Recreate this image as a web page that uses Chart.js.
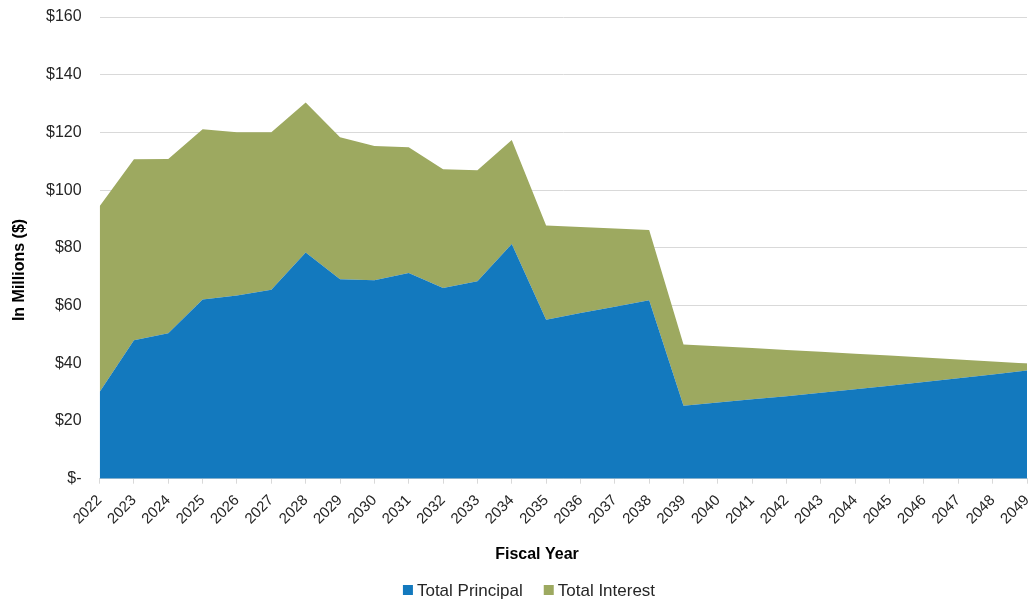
<!DOCTYPE html>
<html>
<head>
<meta charset="utf-8">
<script src="https://cdn.jsdelivr.net/npm/chart.js@4/dist/chart.umd.min.js"></script>
<style>
  html, body { margin: 0; padding: 0; background: #fff; }
  #wrap { width: 1031px; height: 603px; position: relative; }
</style>
</head>
<body>
<div id="wrap"><canvas id="c" width="1031" height="603"></canvas></div>
<script>
// Fiscal years
const years = [
  '2022','2023','2024','2025','2026','2027','2028','2029','2030','2031',
  '2032','2033','2034','2035','2036','2037','2038','2039','2040','2041',
  '2042','2043','2044','2045','2046','2047','2048','2049'
];

// Debt service, in millions of dollars
const totalPrincipal = [
  30.0, 48.0, 50.4, 62.1, 63.5, 65.5, 78.4, 69.1, 68.8, 71.3,
  66.1, 68.4, 81.3, 55.1, 57.4, 59.6, 61.8, 25.3, 26.4, 27.5,
  28.6, 29.8, 31.0, 32.2, 33.5, 34.8, 36.1, 37.5
];
const totalInterest = [
  64.4, 62.7, 60.4, 59.0, 56.6, 54.6, 52.0, 49.2, 46.5, 43.6,
  41.1, 38.5, 36.1, 32.6, 29.8, 27.1, 24.4, 21.2, 19.5, 17.8,
  16.0, 14.2, 12.3, 10.5, 8.5, 6.5, 4.5, 2.4
];

// Y axis ticks
const yTicks = [0, 20, 40, 60, 80, 100, 120, 140, 160];

const FONT = "'Liberation Sans', Arial, sans-serif";
const TEXT = '#262626';
const BLUE = '#1379BE';
const GREEN = '#9DA960';

// Axis titles and key drawn around the plot
const annotations = {
  id: 'annotations',
  afterDraw(chart) {
    const ctx = chart.ctx;
    ctx.save();

    // y axis title
    ctx.fillStyle = '#000';
    ctx.font = 'bold 16px ' + FONT;
    ctx.textAlign = 'center';
    ctx.textBaseline = 'middle';
    ctx.translate(20, 270);
    ctx.rotate(-Math.PI / 2);
    ctx.fillText('In Millions ($)', 0, 0);
    ctx.setTransform(1, 0, 0, 1, 0, 0);

    // x axis title
    ctx.fillText('Fiscal Year', 537, 555);

    // key
    const items = chart.data.datasets.map(ds => ({ text: ds.label, color: ds.backgroundColor }));
    ctx.font = '17px ' + FONT;
    const box = 10, gapText = 4, gapItem = 21;
    const widths = items.map(it => ctx.measureText(it.text).width);
    const total = widths.reduce((s, w) => s + box + gapText + w, 0) + gapItem * (items.length - 1);
    let x = 529 - total / 2;
    const cy = 590;
    ctx.textAlign = 'left';
    items.forEach((it, i) => {
      ctx.fillStyle = it.color;
      ctx.fillRect(x, cy - box / 2, box, box);
      x += box + gapText;
      ctx.fillStyle = TEXT;
      ctx.fillText(it.text, x, cy + 1);
      x += widths[i] + gapItem;
    });
    ctx.restore();
  }
};

new Chart(document.getElementById('c'), {
  type: 'line',
  data: {
    labels: years,
    datasets: [
      {
        label: 'Total Principal',
        data: totalPrincipal,
        backgroundColor: BLUE,
        borderColor: BLUE,
        borderWidth: 0,
        pointRadius: 0,
        fill: 'origin',
        tension: 0
      },
      {
        label: 'Total Interest',
        data: totalInterest,
        backgroundColor: GREEN,
        borderColor: GREEN,
        borderWidth: 0,
        pointRadius: 0,
        fill: '-1',
        tension: 0
      }
    ]
  },
  plugins: [annotations],
  options: {
    responsive: false,
    animation: false,
    layout: { padding: { left: 28, right: 4, top: 17, bottom: 67 } },
    plugins: {
      legend: { display: false },
      tooltip: { enabled: false }
    },
    scales: {
      x: {
        offset: false,
        afterFit(scale) {
          scale.paddingLeft = 0;
          scale.paddingRight = 0;
        },
        grid: {
          display: true,
          drawOnChartArea: false,
          drawTicks: true,
          tickLength: 5,
          color: '#d9d9d9'
        },
        border: { display: true, color: '#d9d9d9' },
        ticks: {
          autoSkip: false,
          maxRotation: 45,
          minRotation: 45,
          padding: 8,
          color: TEXT,
          font: { family: FONT, size: 15 }
        }
      },
      y: {
        stacked: true,
        min: 0,
        max: 160,
        afterFit(scale) {
          scale.paddingTop = 0;
          scale.paddingBottom = 0;
        },
        afterBuildTicks(scale) {
          scale.ticks = yTicks.map(v => ({ value: v }));
        },
        grid: {
          color: '#d9d9d9',
          drawTicks: false
        },
        border: { display: false },
        ticks: {
          padding: 18,
          color: TEXT,
          font: { family: FONT, size: 16 },
          callback: v => (v === 0 ? '$-' : '$' + v)
        }
      }
    }
  }
});
</script>
</body>
</html>
